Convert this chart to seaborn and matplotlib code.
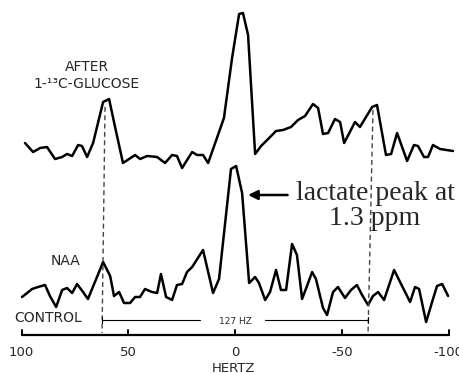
import numpy as np
import matplotlib
matplotlib.use('Agg')
import matplotlib.pyplot as plt
import pandas as pd
import seaborn as sns

# spectrum: frequency (Hz) and signal (arbitrary units)
after_hz = [98.4, 94.6, 91.3, 88.1, 84.3, 81.0, 78.7, 76.3, 73.5, 71.7, 69.3, 66.5,
            61.8, 59.0, 56.2, 52.5, 46.8, 44.5, 41.2, 36.5, 32.8, 29.5, 27.2, 24.8,
            20.1, 17.8, 15.0, 12.6, 5.2, 1.4, -1.9, -3.7, -6.1, -9.4, -12.2, -15.5,
            -19.2, -22.5, -26.2, -29.5, -32.8, -36.5, -38.9, -41.2, -43.6, -46.8,
            -49.2, -51.1, -56.2, -58.5, -64.2, -66.5, -70.7, -73.1, -75.9, -80.6,
            -83.8, -85.7, -88.5, -90.4, -92.7, -96.0, -102.1]
after_sig = [17, 8, 12, 13, 1, 3, 6, 4, 15, 14, 3, 17,
             58, 61, 33, -3, 5, 1, 4, 3, -3, 5, 4, -8,
             8, 5, 5, -3, 42, 102, 146, 147, 125, 6, 14, 21,
             29, 30, 33, 40, 44, 56, 52, 26, 27, 41,
             38, 17, 38, 33, 53, 55, 5, 6, 27, -1,
             15, 14, 3, 3, 15, 11, 9]

control_hz = [99.8, 97.4, 95.1, 92.3, 89.0, 86.7, 83.8, 81.0, 78.7, 76.3, 74.0, 71.2,
              68.9, 61.8, 58.5, 56.7, 54.3, 52.0, 49.2, 46.8, 44.5, 42.2, 38.9, 36.5,
              34.7, 32.3, 29.5, 27.2, 24.8, 22.5, 20.1, 15.0, 10.3, 7.5, 1.9, -0.5,
              -3.3, -6.6, -9.4, -11.2, -14.1, -16.4, -19.2, -21.5, -23.9, -26.7, -29.0,
              -31.4, -33.7, -36.1, -37.9, -41.2, -43.1, -45.9, -48.2, -51.5, -54.3,
              -57.1, -59.5, -62.3, -64.6, -67.0, -69.8, -74.5, -78.7, -82.0, -84.3,
              -86.2, -89.5, -92.3, -94.6, -97.0, -99.8]
control_sig = [3, 7, 11, 13, 15, 4, -7, 10, 12, 7, 16, 8,
               1, 38, 24, 4, 8, -3, -3, 3, 3, 11, 8, 7,
               26, 3, 0, 15, 16, 28, 33, 50, 7, 21, 131, 134,
               107, 17, 23, 17, 0, 8, 30, 10, 10, 56, 45,
               1, 14, 28, 21, -8, -15, 8, 13, 2, 10,
               15, 5, -5, 4, 8, 0, 30, 12, -2, 13,
               11, -22, -2, 14, 16, 4]

tick_hz = [100, 50, 0, -50, -100]
naa_hz = 62.3  # NAA line, 127 Hz apart from the satellite

df = pd.concat([
    pd.DataFrame({'hz': after_hz, 'sig': np.array(after_sig) + 213, 'trace': 'after'}),
    pd.DataFrame({'hz': control_hz, 'sig': np.array(control_sig) + 73, 'trace': 'control'}),
])

sns.set_style('white')
fig = plt.figure(figsize=(4.59, 3.73), dpi=100)
ax = fig.add_axes([0, 0, 1, 1])

for name, grp in df.groupby('trace'):
    sns.lineplot(data=grp, x='hz', y='sig', ax=ax, color='black', lw=1.8,
                 sort=False, estimator=None, legend=False)

ax.set_xlim(110.1, -104.9)
ax.set_ylim(0, 373)
ax.axis('off')

# dashed guides through the satellite lines
ax.plot([60.9, naa_hz], [266, 40], color='#444444', lw=1.0, ls=(0, (3.5, 2.5)))
ax.plot([-64.6, -naa_hz], [263, 40], color='#444444', lw=1.0, ls=(0, (3.5, 2.5)))

# 127 Hz span
ax.plot([naa_hz, 16.4], [53, 53], color='black', lw=0.8)
ax.plot([-14.1, -naa_hz], [53, 53], color='black', lw=0.8)
ax.plot([naa_hz, naa_hz], [50, 56], color='black', lw=0.8)
ax.plot([-naa_hz, -naa_hz], [50, 56], color='black', lw=0.8)
ax.text(0, 52, '127 HZ', ha='center', va='center', fontsize=6.5, family='DejaVu Sans')

# frequency axis
ax.plot([tick_hz[0], tick_hz[-1]], [38, 38], color='black', lw=1.6)
for t in tick_hz:
    ax.plot([t, t], [38, 43], color='black', lw=1.4)
    ax.text(t, 21, str(t), ha='center', va='center', fontsize=9.5, family='DejaVu Sans')
ax.text(0.9, 5, 'HERTZ', ha='center', va='center', fontsize=9.5, family='DejaVu Sans')

# trace labels
lab = dict(ha='center', va='center', fontsize=10, family='DejaVu Sans')
ax.text(69.3, 306, 'AFTER', **lab)
ax.text(69.8, 289, '1-¹³C-GLUCOSE', **lab)
ax.text(79.6, 112, 'NAA', **lab)
ax.text(87.6, 55, 'CONTROL', **lab)

# lactate annotation
ax.annotate('', xy=(-6.1, 178), xytext=(-24.6, 178),
            arrowprops=dict(arrowstyle='-|>', color='black', lw=1.8,
                            mutation_scale=14, shrinkA=0, shrinkB=0))
ax.text(-65.6, 173, 'lactate peak at', ha='center', va='baseline',
        fontsize=20, family='Liberation Serif')
ax.text(-65.6, 148, '1.3 ppm', ha='center', va='baseline',
        fontsize=20, family='Liberation Serif')

fig.savefig('out.png', dpi=100)
